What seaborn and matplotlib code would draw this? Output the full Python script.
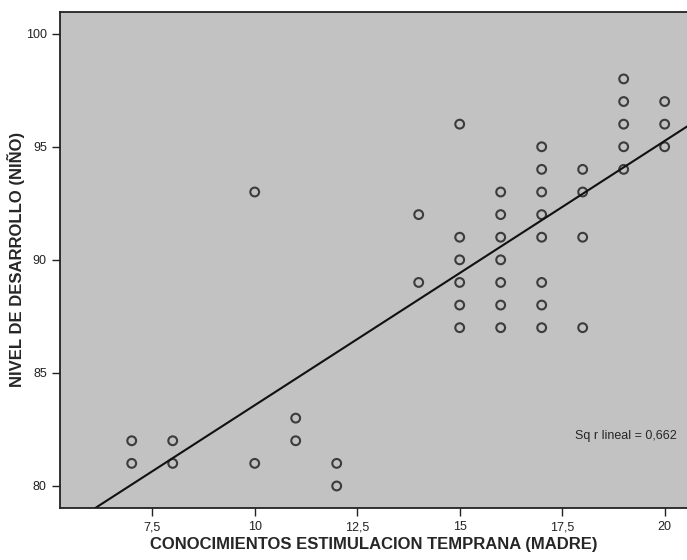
import numpy as np
import pandas as pd
import seaborn as sns
import matplotlib.pyplot as plt

# conocimientos (madre) vs nivel de desarrollo (nino)
conocimientos = [7, 7, 8, 8, 10, 10, 11, 11, 12, 12, 14, 14,
                 15, 15, 15, 15, 15, 15,
                 16, 16, 16, 16, 16, 16, 16,
                 17, 17, 17, 17, 17, 17, 17, 17,
                 18, 18, 18, 18,
                 19, 19, 19, 19, 19,
                 20, 20, 20]
desarrollo = [82, 81, 82, 81, 93, 81, 83, 82, 81, 80, 92, 89,
              96, 91, 90, 89, 88, 87,
              93, 92, 91, 90, 89, 88, 87,
              95, 94, 93, 92, 91, 89, 88, 87,
              94, 93, 91, 87,
              98, 97, 96, 95, 94,
              97, 96, 95]
x_ticks = [7.5, 10, 12.5, 15, 17.5, 20]
x_ticklabels = ['7,5', '10', '12,5', '15', '17,5', '20']
y_ticks = [80, 85, 90, 95, 100]
r2_label = 'Sq r lineal = 0,662'

df = pd.DataFrame({'x': conocimientos, 'y': desarrollo})

sns.set_style('ticks')
plt.rcParams['font.family'] = ['Liberation Sans', 'DejaVu Sans']

fig = plt.figure(figsize=(6.87, 5.6), dpi=100)
ax = fig.add_axes([0.0873, 0.093, 0.913, 0.886])
ax.set_facecolor('#c2c2c2')
ax.set_xlim(5.25, 20.55)
ax.set_ylim(79.03, 100.97)

sns.regplot(data=df, x='x', y='y', ax=ax, ci=None, truncate=False,
            scatter_kws=dict(s=40, facecolors='none', edgecolors='#1a1a1a', linewidths=1.5),
            line_kws=dict(color='#111111', lw=1.5))

ax.set_xticks(x_ticks)
ax.set_xticklabels(x_ticklabels)
ax.set_yticks(y_ticks)
ax.tick_params(direction='out', length=6, width=1, labelsize=9, colors='#222222')
for side in ['left', 'bottom', 'top']:
    ax.spines[side].set_linewidth(1.3)
    ax.spines[side].set_color('#222222')
ax.spines['right'].set_visible(False)

ax.set_xlabel('CONOCIMIENTOS ESTIMULACION TEMPRANA (MADRE)', fontsize=12,
              fontweight='bold')
ax.set_ylabel('NIVEL DE DESARROLLO (NIÑO)', fontsize=12, fontweight='bold')
ax.xaxis.set_label_coords(0.5, -0.058)
ax.yaxis.set_label_coords(-0.056, 0.5)
ax.text(20.3, 82.2, r2_label, fontsize=9, ha='right', va='center')

fig.savefig('out.png', dpi=100)
